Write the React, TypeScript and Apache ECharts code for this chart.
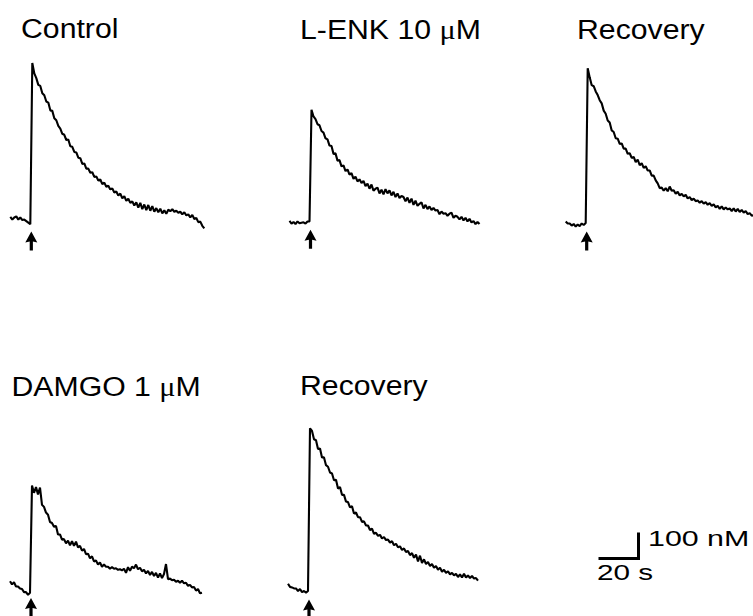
import React, { useEffect, useRef } from "react";
import * as echarts from "echarts";

// ---- data (time in s, relative to stimulus; [Ca2+]i in nM), 1 s sampling ----
const STEP_S = 1;

const controlStart = -10;
const controlValues = [
  84, 74, 82, 86, 74, 82, 72, 74, 68, 62, 56,
  676, 636, 618, 592, 588, 560, 552, 528, 524, 494, 492, 464, 456, 434, 424, 404, 400, 380, 382,
  356, 354, 334, 332, 312, 310, 288, 290, 270, 270, 254, 256, 238, 240, 224, 228, 210, 216, 200, 204,
  190, 194, 178, 182, 166, 174, 156, 164, 146, 154, 138, 144, 128, 140, 120, 138, 114, 132, 110, 130,
  108, 126, 104, 118, 102, 116, 98, 110, 96, 112, 106, 114, 104, 108, 100, 104, 94, 102, 90, 94,
  82, 92, 76, 80, 64, 66, 50, 40,
];

const lenkStart = -10;
const lenkValues = [
  84, 74, 80, 72, 82, 75, 77, 79, 74, 82, 82,
  512, 486, 476, 456, 452, 430, 424, 402, 398, 374, 372, 342, 344, 316, 318, 294, 298, 276, 282,
  262, 268, 246, 254, 236, 244, 230, 238, 218, 228, 208, 224, 200, 208, 212, 190, 204, 186, 206, 190,
  202, 182, 196, 176, 190, 172, 180, 176, 160, 174, 154, 170, 146, 162, 142, 150, 156, 132, 146, 130,
  140, 126, 134, 124, 126, 110, 120, 112, 114, 104, 112, 116, 96, 104, 100, 90, 100, 86, 96, 82,
  92, 78, 84, 72, 80, 72,
];

const recovery1Start = -10;
const recovery1Values = [
  90, 82, 82, 74, 80, 70, 78, 72, 82, 76, 84,
  679, 644, 614, 610, 590, 576, 556, 544, 516, 504, 478, 470, 440, 434, 410, 408, 388, 390, 370,
  370, 350, 352, 334, 338, 318, 328, 306, 314, 296, 302, 286, 286, 266, 266, 248, 236, 218, 220, 208,
  218, 206, 224, 208, 210, 196, 204, 190, 196, 186, 192, 178, 184, 172, 178, 168, 170, 162, 168, 158,
  164, 154, 160, 150, 156, 144, 150, 138, 148, 136, 144, 136, 140, 130, 140, 128, 138, 126, 134, 124,
  130, 118, 122, 112, 114,
];

const damgoStart = -10;
const damgoValues = [
  106, 94, 102, 86, 86, 78, 76, 64, 64, 54, 62,
  474, 446, 468, 440, 466, 400, 392, 370, 362, 334, 330, 316, 318, 286, 286, 266, 268, 252, 262,
  244, 260, 242, 258, 236, 242, 224, 230, 210, 212, 194, 202, 182, 186, 170, 178, 162, 170, 162, 162,
  154, 160, 154, 156, 150, 152, 148, 154, 138, 160, 146, 162, 156, 170, 152, 158, 144, 150, 136, 146,
  130, 142, 126, 138, 120, 136, 118, 134, 172, 114, 116, 110, 112, 104, 108, 100, 108, 98, 100, 88,
  92, 82, 84, 70, 76, 60, 62,
];

const recovery2Start = -10;
const recovery2Values = [
  104, 92, 90, 86, 86, 76, 84, 72, 76, 70, 76,
  702, 692, 660, 656, 622, 624, 590, 590, 560, 554, 532, 528, 502, 504, 470, 476, 446, 446, 420,
  418, 398, 402, 374, 378, 360, 360, 342, 344, 328, 328, 310, 316, 296, 300, 288, 292, 278, 284, 272,
  274, 262, 268, 252, 258, 244, 248, 234, 240, 226, 230, 214, 222, 204, 216, 190, 212, 184, 198, 180,
  188, 172, 180, 166, 172, 158, 166, 150, 158, 146, 152, 140, 146, 136, 142, 130, 140, 128, 142, 128,
  136, 126, 134, 124, 126, 116,
];

// stimulus marker (arrow) level, in nM, for each trace
const arrowLevels = [-8, 14, 15, 5, 7];
const stimulusTime = 0.5;

const traceTitles = ["Control", "L-ENK 10 {mu|μ}M", "Recovery", "DAMGO 1 {mu|μ}M", "Recovery"];

// scale bar
const scaleBarSeconds = 20;
const scaleBarNanomolar = 100;
const scaleBarTimeLabel = "20 s";
const scaleBarConcLabel = "100 nM";

// ---- layout ----
const PX_PER_S = 2;
const PX_PER_NM = 0.26;
const T_MIN = -12;
const C_MIN = -20;
const C_MAX = 750;

// pixel of stimulus onset (t=0) and of 0 nM for each panel; visible time extent
const panelOrigins = [
  { x0: 30.3, yZero: 238.8, tMax: 90 },
  { x0: 309.5, yZero: 242.8, tMax: 90 },
  { x0: 585.7, yZero: 244.8, tMax: 83.5 },
  { x0: 30, yZero: 608.8, tMax: 90 },
  { x0: 308, yZero: 610.8, tMax: 90 },
];
const titlePos = [
  { x: 21, y: 29 },
  { x: 300, y: 30 },
  { x: 577, y: 30 },
  { x: 11.5, y: 386.7 },
  { x: 300, y: 386 },
];

const ARROW = "path://M6,0 L12,11 L7.6,10 L7.6,19 L4.4,19 L4.4,10 L0,11 Z";

function build(start: number, values: number[]) {
  return values.map((v, i) => [start + i * STEP_S, v]);
}

export default function App() {
  const ref = useRef<HTMLDivElement>(null);

  useEffect(() => {
    if (!ref.current) return;
    const chart = echarts.init(ref.current, undefined, { renderer: "svg" });

    const traces = [
      build(controlStart, controlValues),
      build(lenkStart, lenkValues),
      build(recovery1Start, recovery1Values),
      build(damgoStart, damgoValues),
      build(recovery2Start, recovery2Values),
    ];

    const grids: any[] = [];
    const xAxes: any[] = [];
    const yAxes: any[] = [];
    const series: any[] = [];

    panelOrigins.forEach((p, i) => {
      grids.push({
        left: p.x0 + T_MIN * PX_PER_S,
        top: p.yZero - C_MAX * PX_PER_NM,
        width: (p.tMax - T_MIN) * PX_PER_S,
        height: (C_MAX - C_MIN) * PX_PER_NM,
        containLabel: false,
      });
      xAxes.push({ type: "value", gridIndex: i, min: T_MIN, max: p.tMax, show: false });
      yAxes.push({ type: "value", gridIndex: i, min: C_MIN, max: C_MAX, show: false });
      series.push({
        type: "line",
        xAxisIndex: i,
        yAxisIndex: i,
        data: traces[i],
        showSymbol: false,
        symbol: "none",
        lineStyle: { color: "#000", width: 2.1 },
        silent: true,
        clip: true,
      });
      series.push({
        type: "scatter",
        xAxisIndex: i,
        yAxisIndex: i,
        data: [[stimulusTime, arrowLevels[i]]],
        symbol: ARROW,
        symbolSize: [12, 19],
        itemStyle: { color: "#000", opacity: 1 },
        silent: true,
        clip: false,
      });
    });

    // scale bar grid (same units/px as traces)
    const sbIndex = panelOrigins.length;
    grids.push({
      left: 598.5,
      top: 532.5,
      width: scaleBarSeconds * PX_PER_S,
      height: scaleBarNanomolar * PX_PER_NM,
      containLabel: false,
    });
    xAxes.push({ type: "value", gridIndex: sbIndex, min: 0, max: scaleBarSeconds, show: false });
    yAxes.push({ type: "value", gridIndex: sbIndex, min: 0, max: scaleBarNanomolar, show: false });
    series.push({
      type: "line",
      xAxisIndex: sbIndex,
      yAxisIndex: sbIndex,
      data: [
        [0, 0],
        [scaleBarSeconds, 0],
        [scaleBarSeconds, scaleBarNanomolar],
      ],
      showSymbol: false,
      symbol: "none",
      lineStyle: { color: "#000", width: 3, join: "miter", cap: "butt" },
      silent: true,
      clip: false,
    });

    const font = "Liberation Sans, Arial, Helvetica, sans-serif";
    const graphics: any[] = traceTitles.map((t, i) => ({
      type: "text",
      x: titlePos[i].x,
      y: titlePos[i].y,
      scaleX: 1.12,
      silent: true,
      style: {
        text: t,
        fontFamily: font,
        fontSize: 27,
        fill: "#000",
        align: "left",
        verticalAlign: "middle",
        rich: {
          mu: { fontFamily: "Liberation Serif, Times New Roman, serif", fontSize: 27, fill: "#000" },
        },
      },
    }));
    graphics.push({
      type: "text",
      x: 648,
      y: 539,
      scaleX: 1.38,
      silent: true,
      style: { text: scaleBarConcLabel, fontFamily: font, fontSize: 22, fill: "#000", align: "left", verticalAlign: "middle" },
    });
    graphics.push({
      type: "text",
      x: 597,
      y: 572.5,
      scaleX: 1.35,
      silent: true,
      style: { text: scaleBarTimeLabel, fontFamily: font, fontSize: 22, fill: "#000", align: "left", verticalAlign: "middle" },
    });

    chart.setOption({
      animation: false,
      backgroundColor: "#fff",
      grid: grids,
      xAxis: xAxes,
      yAxis: yAxes,
      series,
      graphic: graphics,
    });

    return () => chart.dispose();
  }, []);

  return (
    <div
      ref={ref}
      style={{ position: "absolute", left: 0, top: 0, width: 753, height: 616, background: "#fff" }}
    />
  );
}
